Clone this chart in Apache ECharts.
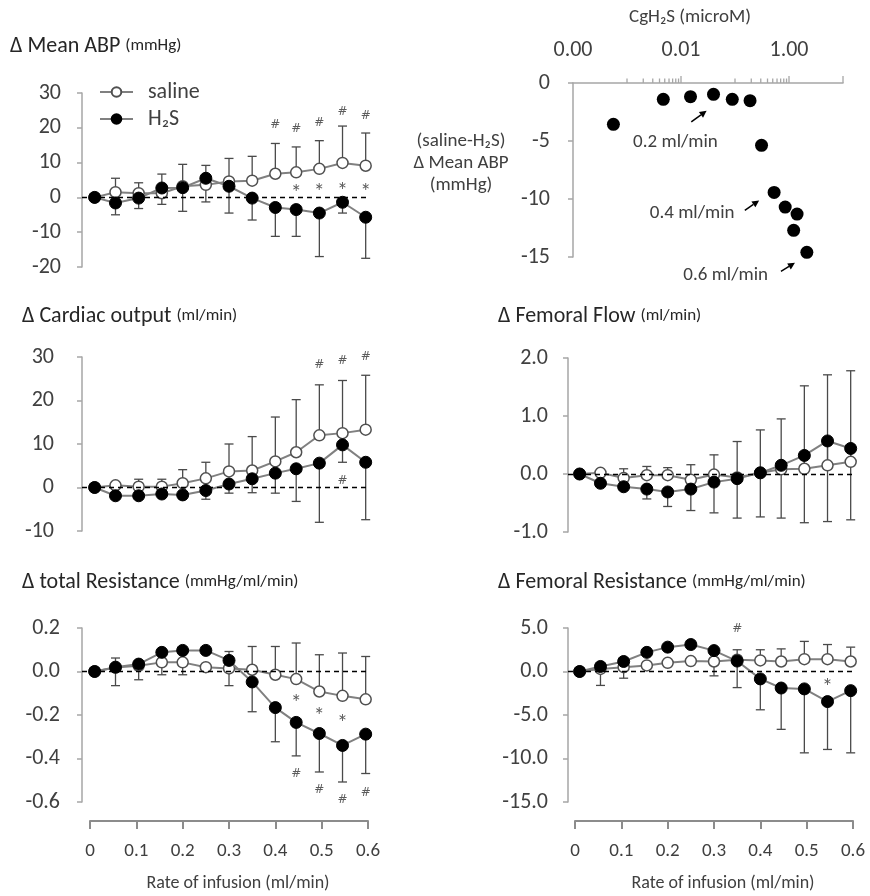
<!DOCTYPE html>
<html>
<head>
<meta charset="utf-8">
<script src="https://cdn.jsdelivr.net/npm/echarts@6/dist/echarts.min.js"></script>
<style>
  html, body { margin: 0; padding: 0; background: #fff; }
  #chart { width: 870px; height: 896px; }
</style>
</head>
<body>
<div id="chart"></div>
<script>
// infusion rates (ml/min) of the points
const rates = [0.01, 0.055, 0.105, 0.155, 0.2, 0.25, 0.3, 0.35, 0.4, 0.445, 0.495, 0.545, 0.595];

// Δ Mean ABP (mmHg)
const abpSaline = [0, 1.5, 1.2, 1.2, 3.2, 3.6, 4.6, 4.8, 6.8, 7.2, 8.2, 9.9, 9.1];
const abpH2S = [0, -1.6, -0.2, 2.7, 2.8, 5.5, 3.2, -0.2, -2.9, -3.5, -4.5, -1.4, -5.7];
const abpSalineErr = [null, 5.5, 4.2, 6.7, 9.5, 9.2, 11.2, 11.8, 15.5, 14.5, 16.3, 20.5, 18.5];
const abpH2SErr = [null, -5, -3.2, -2, -4, -1.3, -4.5, -6.5, -11.2, -11.2, -17, -4.5, -17.5];
const abpMarks = [[0.4, 20.9, '#'], [0.445, 19.7, '#'], [0.495, 21.4, '#'], [0.545, 24.7, '#'], [0.595, 23.5, '#'],
  [0.445, 2.2, '*'], [0.495, 2.4, '*'], [0.545, 2.7, '*'], [0.595, 2.4, '*']];

// Δ Cardiac output (ml/min)
const coSaline = [0, 0.5, 0.2, 0.2, 1.0, 2.1, 3.7, 3.9, 6.0, 8.1, 12.0, 12.5, 13.3];
const coH2S = [0, -1.9, -1.9, -1.5, -1.7, -0.7, 0.8, 2.0, 3.3, 4.3, 5.6, 9.8, 5.8];
const coSalineErr = [null, 1.2, 1.9, 1.9, 4.1, 5.8, 10, 11.7, 16.2, 20.2, 23.6, 24.6, 25.8];
const coH2SErr = [null, -2.3, -2.2, -2, -2.5, -2.7, -1.3, -1.2, -1.3, -3.2, -8, 5.8, -7.4];
const coMarks = [[0.495, 28.2, '#'], [0.545, 29, '#'], [0.595, 30, '#'], [0.545, 1.5, '#']];

// Δ Femoral Flow (ml/min)
const ffSaline = [0, 0.02, -0.07, -0.02, -0.02, -0.1, -0.01, -0.06, 0.02, 0.08, 0.09, 0.15, 0.21];
const ffH2S = [0, -0.16, -0.22, -0.26, -0.31, -0.26, -0.14, -0.08, 0.02, 0.15, 0.32, 0.57, 0.44];
const ffSalineErr = [null, null, 0.09, 0.13, 0.11, 0.16, 0.33, 0.56, 0.76, 0.95, 1.52, 1.71, 1.78];
const ffH2SErr = [null, null, null, -0.43, -0.56, -0.63, -0.67, -0.76, -0.74, -0.76, -0.84, -0.82, -0.79];
const ffMarks = [];

// Δ total Resistance (mmHg/ml/min)
const trSaline = [0, 0.018, 0.026, 0.042, 0.042, 0.02, 0.014, 0.008, -0.015, -0.035, -0.092, -0.112, -0.128];
const trH2S = [0, 0.02, 0.034, 0.088, 0.097, 0.097, 0.051, -0.048, -0.166, -0.234, -0.285, -0.34, -0.288];
const trSalineErr = [null, 0.062, 0.04, -0.015, -0.015, null, 0.092, 0.115, 0.115, 0.131, 0.077, 0.085, 0.069];
const trH2SErr = [null, -0.065, -0.038, null, null, null, -0.065, -0.185, -0.323, -0.388, -0.462, -0.508, -0.469];
const trMarks = [[0.445, -0.13, '*'], [0.495, -0.19, '*'], [0.545, -0.223, '*'],
  [0.445, -0.472, '#'], [0.495, -0.546, '#'], [0.545, -0.589, '#'], [0.595, -0.558, '#']];

// Δ Femoral Resistance (mmHg/ml/min)
const frSaline = [0, 0.3, 0.5, 0.7, 1.0, 1.2, 1.15, 1.35, 1.27, 1.15, 1.42, 1.42, 1.15];
const frH2S = [0, 0.58, 1.15, 2.2, 2.8, 3.1, 2.4, 1.2, -0.85, -1.9, -2.0, -3.46, -2.2];
const frSalineErr = [null, null, null, null, null, null, null, 2.5, 2.5, 2.6, 3.46, 3.1, 2.8];
const frH2SErr = [null, -1.6, -0.77, null, null, null, -0.5, -1.85, -4.4, -6.65, -9.35, -8.96, -9.35];
const frMarks = [[0.35, 4.9, '#'], [0.495, 5.65, '#'], [0.545, 5.4, '#'], [0.545, -1.46, '*']];

// (saline-H2S) Δ Mean ABP vs CgH2S (microM)
const cgConc = [0.00056, 0.0047, 0.015, 0.04, 0.089, 0.19, 0.31, 0.53, 0.85, 1.41, 1.22, 2.14];
const cgDiff = [-3.56, -1.41, -1.18, -0.98, -1.41, -1.52, -5.37, -9.43, -10.7, -11.3, -12.7, -14.6];
const cgNotes = [[0.0079, -5.15, '0.2 ml/min'], [0.0161, -11.27, '0.4 ml/min'], [0.0673, -16.6, '0.6 ml/min']];
const cgArrows = [[0.0155, -3.36, 0.0298, -2.39], [0.152, -10.98, 0.28, -10.12], [0.71, -16.24, 1.29, -15.5]];
const cgMajorTicks = [0.01, 1, 10];
const cgMinorTicks = [0.001, 0.002, 0.003, 0.004, 0.005, 0.006, 0.007, 0.008, 0.009,
  0.1, 0.2, 0.3, 0.4, 0.5, 0.6, 0.7, 0.8, 0.9];

const FONT = 'Carlito, Lato, sans-serif';
const TXT = '#404040';
const AXIS = '#a6a6a6';

const myChart = echarts.init(document.getElementById('chart'));

const grids = [
  { left: 82, top: 93, width: 286, height: 174 },   // 0 mean ABP
  { left: 82, top: 357, width: 286, height: 174 },  // 1 cardiac output
  { left: 568, top: 358, width: 285, height: 174 }, // 2 femoral flow
  { left: 82, top: 628, width: 286, height: 174 },  // 3 total resistance
  { left: 568, top: 628, width: 285, height: 174 }, // 4 femoral resistance
  { left: 573, top: 83, width: 270, height: 174 },  // 5 CgH2S
  { left: 90, top: 811, width: 278, height: 10 },   // 6 bottom x axis left
  { left: 575, top: 811, width: 278, height: 10 }   // 7 bottom x axis right
];

const panels = [
  { grid: 0, xmin: -0.0173, min: -20, max: 30, step: 10, dec: 0, margin: 21, s: abpSaline, h: abpH2S, se: abpSalineErr, he: abpH2SErr, marks: abpMarks },
  { grid: 1, xmin: -0.0173, min: -10, max: 30, step: 10, dec: 0, margin: 28, s: coSaline, h: coH2S, se: coSalineErr, he: coH2SErr, marks: coMarks },
  { grid: 2, xmin: -0.0151, min: -1, max: 2, step: 1, dec: 1, margin: 20, s: ffSaline, h: ffH2S, se: ffSalineErr, he: ffH2SErr, marks: ffMarks },
  { grid: 3, xmin: -0.0173, min: -0.6, max: 0.2, step: 0.2, dec: 1, margin: 22, s: trSaline, h: trH2S, se: trSalineErr, he: trH2SErr, marks: trMarks },
  { grid: 4, xmin: -0.0151, min: -15, max: 5, step: 5, dec: 1, margin: 20, s: frSaline, h: frH2S, se: frSalineErr, he: frH2SErr, marks: frMarks }
];

const xAxes = [];
const yAxes = [];
const series = [];

function yAxisStyle(margin, dec) {
  return {
    axisLine: { show: true, onZero: false, lineStyle: { color: AXIS, width: 1.5 } },
    axisTick: { show: true, inside: false, length: 5, lineStyle: { color: AXIS, width: 1.5 } },
    splitLine: { show: false },
    axisLabel: {
      color: TXT, fontSize: 22, fontFamily: FONT, margin: margin,
      formatter: v => (+v).toFixed(dec)
    }
  };
}

function errBars(gridIdx, ys, ends, color) {
  const data = [];
  rates.forEach((x, i) => { if (ends[i] !== null) data.push([x, ys[i], ends[i]]); });
  return {
    type: 'custom', xAxisIndex: gridIdx, yAxisIndex: gridIdx, z: 1, silent: true,
    data: data,
    renderItem: function (params, api) {
      const p0 = api.coord([api.value(0), api.value(1)]);
      const p1 = api.coord([api.value(0), api.value(2)]);
      const st = { stroke: color, lineWidth: 1.3 };
      return {
        type: 'group',
        children: [
          { type: 'line', shape: { x1: p0[0], y1: p0[1], x2: p1[0], y2: p1[1] }, style: st },
          { type: 'line', shape: { x1: p1[0] - 4.5, y1: p1[1], x2: p1[0] + 4.5, y2: p1[1] }, style: st }
        ]
      };
    }
  };
}

panels.forEach(p => {
  xAxes.push({ type: 'value', gridIndex: p.grid, min: p.xmin, max: 0.6, show: false });
  yAxes.push(Object.assign({
    type: 'value', gridIndex: p.grid, min: p.min, max: p.max, interval: p.step
  }, yAxisStyle(p.margin, p.dec)));
  series.push(errBars(p.grid, p.s, p.se, '#4a4a4a'));
  series.push(errBars(p.grid, p.h, p.he, '#4a4a4a'));
  series.push({
    name: 'saline', type: 'line', xAxisIndex: p.grid, yAxisIndex: p.grid, z: 3,
    data: rates.map((x, i) => [x, p.s[i]]),
    symbol: 'circle', symbolSize: 11,
    itemStyle: { color: '#fff', borderColor: '#505050', borderWidth: 1.5 },
    lineStyle: { color: '#808080', width: 2 },
    markLine: {
      silent: true, symbol: 'none', label: { show: false },
      lineStyle: { color: '#000', type: [5, 4], width: 1.3 },
      data: [{ yAxis: 0 }]
    }
  });
  series.push({
    name: 'H₂S', type: 'line', xAxisIndex: p.grid, yAxisIndex: p.grid, z: 4,
    data: rates.map((x, i) => [x, p.h[i]]),
    symbol: 'circle', symbolSize: 12,
    itemStyle: { color: '#000', borderColor: '#000', borderWidth: 1 },
    lineStyle: { color: '#808080', width: 2 }
  });
  series.push({
    type: 'scatter', xAxisIndex: p.grid, yAxisIndex: p.grid, z: 5, silent: true,
    data: p.marks, symbolSize: 1, itemStyle: { color: 'rgba(0,0,0,0)' },
    label: {
      show: true, position: 'inside',
      formatter: d => d.value[2] === '#' ? '{h|#}' : '{s|*}',
      rich: {
        h: { fontSize: 12, color: '#333', fontFamily: 'DejaVu Sans' },
        s: { fontSize: 22, color: '#333', fontFamily: FONT, padding: [9, 0, 0, 0] }
      }
    }
  });
});

// CgH2S panel (grid 5)
xAxes.push({
  type: 'log', gridIndex: 5, position: 'top', min: 0.0001, max: 10, logBase: 10, splitNumber: 5,
  name: 'CgH₂S (microM)', nameLocation: 'middle', nameGap: 56,
  nameTextStyle: { color: TXT, fontSize: 19, fontFamily: FONT, padding: [0, 36, 0, 0] },
  axisLine: { show: true, onZero: false, lineStyle: { color: AXIS, width: 1.5 } },
  axisTick: { show: false },
  splitLine: { show: false },
  axisLabel: {
    color: TXT, fontSize: 22, fontFamily: FONT, margin: 22, showMaxLabel: true,
    formatter: v => {
      const e = Math.round(Math.log10(v));
      return (e % 2 === 0) ? v.toFixed(2) : '';
    }
  }
});
yAxes.push(Object.assign({
  type: 'value', gridIndex: 5, min: -15, max: 0, interval: 5
}, yAxisStyle(23, 0)));
series.push({
  type: 'scatter', xAxisIndex: 5, yAxisIndex: 5, z: 3,
  data: cgConc.map((c, i) => [c, cgDiff[i]]),
  symbolSize: 13, itemStyle: { color: '#000', opacity: 1 }
});
// arrows of the rate notes
series.push({
  type: 'custom', xAxisIndex: 5, yAxisIndex: 5, z: 4, silent: true, clip: false,
  data: cgArrows,
  renderItem: function (params, api) {
    const a = api.coord([api.value(0), api.value(1)]);
    const b = api.coord([api.value(2), api.value(3)]);
    const dx = b[0] - a[0], dy = b[1] - a[1];
    const len = Math.sqrt(dx * dx + dy * dy);
    const ux = dx / len, uy = dy / len;
    const hx = b[0] - ux * 7, hy = b[1] - uy * 7;
    return {
      type: 'group',
      children: [
        { type: 'line', shape: { x1: a[0], y1: a[1], x2: hx, y2: hy }, style: { stroke: '#000', lineWidth: 1.5 } },
        {
          type: 'polygon',
          shape: { points: [[b[0], b[1]], [hx - uy * 3.5, hy + ux * 3.5], [hx + uy * 3.5, hy - ux * 3.5]] },
          style: { fill: '#000' }
        }
      ]
    };
  }
});
// rate notes
series.push({
  type: 'custom', xAxisIndex: 5, yAxisIndex: 5, z: 4, silent: true, clip: false,
  data: cgNotes.map(n => [n[0], n[1]]),
  renderItem: function (params, api) {
    const p = api.coord([api.value(0), api.value(1)]);
    return {
      type: 'text', x: p[0], y: p[1],
      style: {
        text: cgNotes[params.dataIndex][2], align: 'center', verticalAlign: 'middle',
        fill: TXT, fontSize: 19, fontFamily: FONT
      }
    };
  }
});
// log-axis tick marks of the concentration axis
series.push({
  type: 'custom', xAxisIndex: 5, yAxisIndex: 5, z: 2, silent: true, clip: false,
  data: cgMajorTicks.map(t => [t, 7]).concat(cgMinorTicks.map(t => [t, 4.5])),
  renderItem: function (params, api) {
    const p = api.coord([api.value(0), 0]);
    return {
      type: 'line',
      shape: { x1: p[0], y1: p[1], x2: p[0], y2: p[1] - api.value(1) },
      style: { stroke: AXIS, lineWidth: 1.3 }
    };
  }
});

// bottom infusion-rate axes (grids 6, 7)
[6, 7].forEach(g => {
  xAxes.push({
    type: 'value', gridIndex: g, min: 0, max: 0.6, interval: 0.1,
    name: 'Rate of infusion (ml/min)', nameLocation: 'middle', nameGap: 53,
    nameTextStyle: { color: TXT, fontSize: 18, fontFamily: FONT, padding: [0, 0, 0, 18] },
    axisLine: { show: true, lineStyle: { color: '#8c8c8c', width: 2 } },
    axisTick: { show: true, length: 8, lineStyle: { color: '#8c8c8c', width: 2 } },
    splitLine: { show: false },
    axisLabel: { color: TXT, fontSize: 19, fontFamily: FONT, margin: 21, formatter: v => v === 0 ? '0' : (+v).toFixed(1) }
  });
  yAxes.push({ type: 'value', gridIndex: g, show: false, min: 0, max: 1 });
});

const titleRich = {
  a: { fontSize: 22, fontWeight: 'normal', color: '#262626', fontFamily: FONT },
  b: { fontSize: 17, fontWeight: 'normal', color: '#262626', fontFamily: FONT }
};
function title(left, top, big, small) {
  return {
    left: left, top: top, padding: 0,
    text: '{a|' + big + '} {b|' + small + '}',
    textStyle: { fontWeight: 'normal', rich: titleRich }
  };
}

const yNameLines = ['(saline-H₂S)', 'Δ Mean ABP', '(mmHg)'];

const option = {
  animation: false,
  backgroundColor: '#fff',
  title: [
    title(10, 35, 'Δ Mean ABP', '(mmHg)'),
    title(22, 305, 'Δ Cardiac output', '(ml/min)'),
    title(498, 305, 'Δ Femoral Flow', '(ml/min)'),
    title(22, 571, 'Δ total Resistance', '(mmHg/ml/min)'),
    title(498, 571, 'Δ Femoral Resistance', '(mmHg/ml/min)')
  ],
  legend: {
    data: ['saline', 'H₂S'], orient: 'vertical', left: 99, top: 81,
    itemWidth: 33, itemHeight: 12, itemGap: 5, padding: 0,
    textStyle: { color: TXT, fontSize: 22, fontFamily: FONT, padding: [0, 0, 0, 10] }
  },
  graphic: yNameLines.map((t, i) => ({
    type: 'text', x: 461, y: 141 + i * 22,
    style: { text: t, align: 'center', verticalAlign: 'middle', fill: TXT, fontSize: 19, fontFamily: FONT }
  })),
  grid: grids,
  xAxis: xAxes,
  yAxis: yAxes,
  series: series
};

myChart.setOption(option);
</script>
</body>
</html>
